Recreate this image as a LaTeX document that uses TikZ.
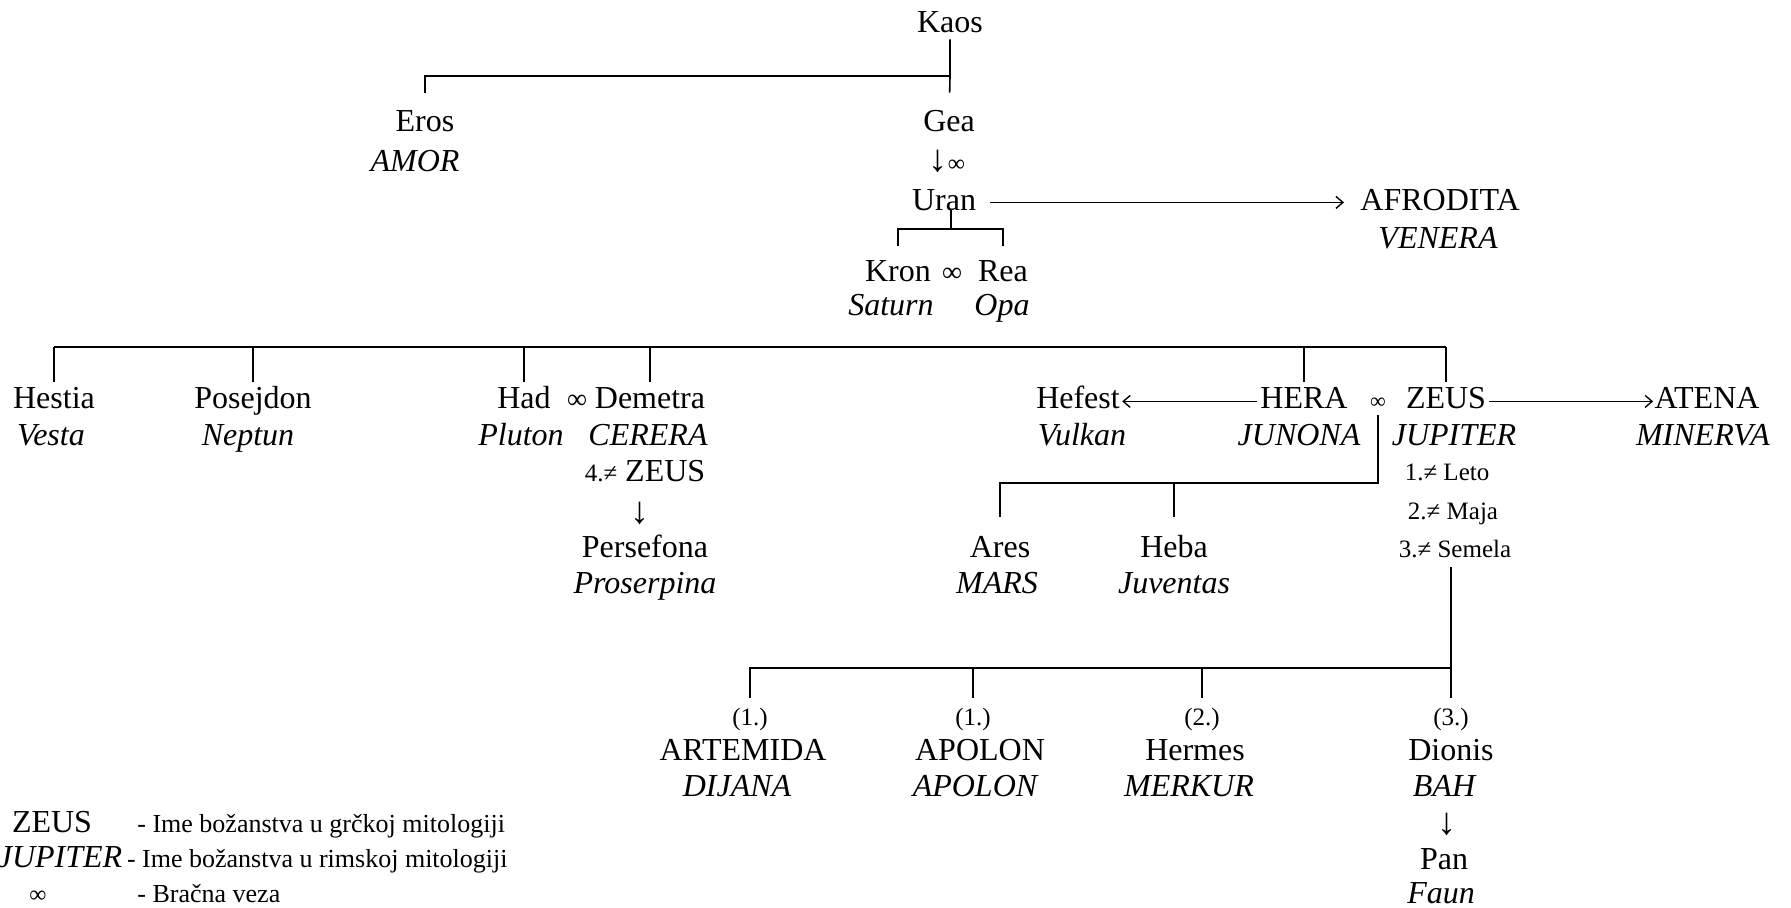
\documentclass[tikz,border=0pt]{standalone}
\usepackage{fontspec}
\setmainfont{Liberation Serif}[
  UprightFont={Liberation Serif},
  ItalicFont={Liberation Serif Italic},
  BoldFont={Liberation Serif Bold}]
\usetikzlibrary{arrows.meta,positioning}
\tikzset{
  god/.style={inner sep=0pt, anchor=base, text height=11pt, text depth=3.5pt,
    font=\fontsize{16}{19}\selectfont},
  roman/.style={god, font=\fontsize{16}{19}\selectfont\itshape},
  note/.style={inner sep=0pt, anchor=base, text height=8.6pt, text depth=2.8pt,
    font=\fontsize{12.5}{15}\selectfont},
  marriage/.style={god, font=\fontsize{#1}{14}\selectfont},
  marriage/.default=14,
  keytext/.style={inner sep=0pt, anchor=base west, font=\fontsize{13}{16}\selectfont},
  branch/.style={line width=0.8pt},
  goesto/.style={-{Straight Barb[length=3.5pt,width=6pt]}, line width=0.7pt},
}

\begin{document}
\begin{tikzpicture}[x=0.5pt, y=-0.5pt]
    \useasboundingbox (0,0) rectangle (1791,907);
    \node[god] (kaos) at (950,32) {Kaos};
    \node[god] (eros) at (425,131) {Eros};
    \node[roman] (amor) at (415,171) {AMOR};
    \node[god] (gea) at (949,131) {Gea};
    \node[god] (geauran) at (947,171) {{\fontsize{19}{19}\selectfont ↓}{\fontsize{12}{14}\selectfont ∞}};
    \node[god] (uran) at (944,210) {Uran};
    \node[god] (afrodita) at (1440,210) {AFRODITA};
    \node[roman] (venera) at (1438,248) {VENERA};
    \node[god] (kron) at (898,281) {Kron};
    \node[marriage] (kronrea) at (952,281) {∞};
    \node[god] (rea) at (1003,281) {Rea};
    \node[roman] (saturn) at (891,315) {Saturn};
    \node[roman] (opa) at (1002,315) {Opa};
    \coordinate (kaosbar) at (950,76);
    \coordinate (uranbar) at (951,229);
    \draw[branch, shorten >=8pt] (kaos) -- (kaosbar) -- (gea);
    \draw[branch, shorten >=8pt] (kaosbar) -| (eros);
    \draw[branch] (uranbar |- uran.base) -- (uranbar);
    \draw[branch, shorten <=6.5pt, shorten >=6.5pt] (kron) |- (uranbar) -| (rea);
    \draw[goesto, shorten <=7pt, shorten >=8pt] ([yshift=1.5pt]uran.mid east) -- ([yshift=1.5pt]uran.mid east -| afrodita.west);

    \node[god] (hestia) at (54,408) {Hestia};
    \node[roman] (vesta) at (51,445) {Vesta};
    \node[god] (posejdon) at (253,408) {Posejdon};
    \node[roman] (neptun) at (248,445) {Neptun};
    \node[god] (had) at (524,408) {Had};
    \node[marriage] (haddemetra) at (577,408) {∞};
    \node[god] (demetra) at (650,408) {Demetra};
    \node[roman] (pluton) at (521,445) {Pluton};
    \node[roman] (cerera) at (648,445) {CERERA};
    \node[god] (demzeus) at (645,481) {{\fontsize{12.5}{15}\selectfont 4.≠} ZEUS};
    \node[god] (demkid) at (640,523) {{\fontsize{19}{19}\selectfont ↓}};
    \node[god] (persefona) at (645,557) {Persefona};
    \node[roman] (proserpina) at (645,593) {Proserpina};

    \node[god] (hefest) at (1078,408) {Hefest};
    \node[roman] (vulkan) at (1082,445) {Vulkan};
    \node[god] (hera) at (1304,408) {HERA};
    \node[roman] (junona) at (1299,445) {JUNONA};
    \node[marriage=11] (herazeus) at (1378,408) {∞};
    \node[god] (zeus) at (1446,408) {ZEUS};
    \node[roman] (jupiter) at (1454,445) {JUPITER};
    \node[god] (atena) at (1707,408) {ATENA};
    \node[roman] (minerva) at (1703,445) {MINERVA};
    \node[note] (leto) at (1447,480) {1.≠ Leto};
    \node[note] (maja) at (1453,519) {2.≠ Maja};
    \node[note] (semela) at (1455,557) {3.≠ Semela};
    \node[god] (ares) at (1000,557) {Ares};
    \node[roman] (mars) at (997,593) {MARS};
    \node[god] (heba) at (1174,557) {Heba};
    \node[roman] (juventas) at (1174,593) {Juventas};

    \coordinate (rowbar) at (0,347);
    \coordinate (herabar) at (1378,483);
    \draw[branch] (hestia |- rowbar) -- (zeus |- rowbar);
    \draw[branch, shorten >=2pt] (hestia |- rowbar) -- (hestia);
    \draw[branch, shorten >=2pt] (posejdon |- rowbar) -- (posejdon);
    \draw[branch, shorten >=2pt] (had |- rowbar) -- (had);
    \draw[branch, shorten >=2pt] (demetra |- rowbar) -- (demetra);
    \draw[branch, shorten >=2pt] (hera |- rowbar) -- (hera);
    \draw[branch, shorten >=2pt] (zeus |- rowbar) -- (zeus);
    \draw[goesto, shorten <=1.5pt, shorten >=1pt] ([yshift=1pt]hera.mid west) -- ([yshift=1pt]hefest.mid east);
    \draw[goesto, shorten <=1.5pt, shorten >=0.5pt] ([yshift=1pt]zeus.mid east) -- ([yshift=1pt]atena.mid west);
    \draw[branch, shorten >=9pt] (herazeus) -- (herabar) -| (ares);
    \draw[branch, shorten >=9pt] (heba |- herabar) -- (heba);

    \node[note] (nartemida) at (750,725) {(1.)};
    \node[note] (napolon) at (973,725) {(1.)};
    \node[note] (nhermes) at (1202,725) {(2.)};
    \node[note] (ndionis) at (1451,725) {(3.)};
    \node[god] (artemida) at (743,760) {ARTEMIDA};
    \node[roman] (dijana) at (737,796) {DIJANA};
    \node[god] (apolon) at (980,760) {APOLON};
    \node[roman] (apolonrm) at (975,796) {APOLON};
    \node[god] (hermes) at (1195,760) {Hermes};
    \node[roman] (merkur) at (1189,796) {MERKUR};
    \node[god] (dionis) at (1451,760) {Dionis};
    \node[roman] (bah) at (1444,796) {BAH};
    \node[god] (dioniskid) at (1447,834) {{\fontsize{19}{19}\selectfont ↓}};
    \node[god] (pan) at (1444,869) {Pan};
    \node[roman] (faun) at (1441,903) {Faun};

    \coordinate (kidsbar) at (1451,668);
    \draw[branch, shorten <=2pt, shorten >=4.5pt] (kidsbar |- semela.south) -- (ndionis);
    \draw[branch, shorten >=4.5pt] (kidsbar) -| (nartemida);
    \draw[branch, shorten >=4.5pt] (napolon |- kidsbar) -- (napolon);
    \draw[branch, shorten >=4.5pt] (nhermes |- kidsbar) -- (nhermes);

    \node[god] (keygreek) at (52,832) {ZEUS};
    \node[roman] (keyroman) at (60,867) {JUPITER};
    \node[marriage=12] (keymarriage) at (38,902) {∞};
    \node[keytext] (keygreektext) at (137,832) {- Ime božanstva u grčkoj mitologiji};
    \node[keytext, base right=2pt of keyroman] (keyromantext) {- Ime božanstva u rimskoj mitologiji};
    \node[keytext] (keymarriagetext) at (137,902) {- Bračna veza};
\end{tikzpicture}
\end{document}
